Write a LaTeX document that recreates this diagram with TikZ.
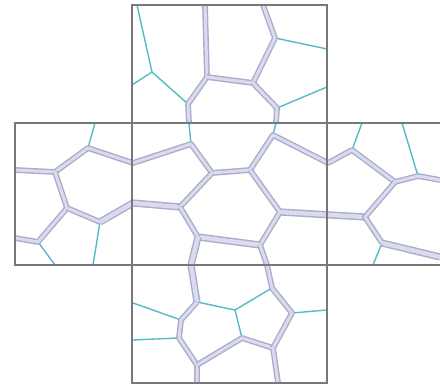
\documentclass[tikz,border=0pt]{standalone}
\definecolor{lavout}{RGB}{170,172,204}
\definecolor{lavin}{RGB}{218,219,236}
\definecolor{cyanline}{RGB}{84,188,200}
\definecolor{framegrey}{RGB}{120,120,120}
\tikzset{
  lav/.style={draw=lavout, double=lavin, line width=1.4pt, double distance=3pt, line join=round},
  lavthick/.style={draw=lavout, double=lavin, line width=1.4pt, double distance=4.4pt, line join=round},
  cyl/.style={draw=cyanline, line width=1.4pt, line join=round},
  frame/.style={draw=framegrey, line width=1.5pt}
}
\begin{document}
\begin{tikzpicture}[x=1pt,y=-1pt]
\useasboundingbox[fill=white] (0,0) rectangle (440,388);
% ---- top face vertices
\coordinate (t1) at (137,5);
\coordinate (a1) at (152,72);
\coordinate (l1) at (132,85);
\coordinate (A) at (188,104);
\coordinate (tA) at (205,5);
\coordinate (A2) at (207,77);
\coordinate (D1) at (253,83);
\coordinate (E1) at (275,38);
\coordinate (tE) at (263,5);
\coordinate (rE) at (327,49);
\coordinate (F1) at (277,108);
\coordinate (rF) at (327,87);
\coordinate (ab) at (189,123);
\coordinate (fe) at (276,123);
% ---- middle face vertices
\coordinate (B) at (191,144);
\coordinate (J) at (88,148);
\coordinate (tJ) at (95,123);
\coordinate (K) at (55,172);
\coordinate (lK) at (15,170);
\coordinate (L) at (67,208);
\coordinate (M) at (100,222);
\coordinate (bM) at (93,265);
\coordinate (N) at (38,242);
\coordinate (lN) at (15,238);
\coordinate (bN) at (55,265);
\coordinate (m1) at (133,203);
\coordinate (j1) at (133,163);
\coordinate (C) at (212,173);
\coordinate (D) at (250,170);
\coordinate (E) at (273,135);
\coordinate (F) at (280,212);
\coordinate (G) at (260,245);
\coordinate (H) at (198,237);
\coordinate (I) at (180,207);
\coordinate (P) at (328,163);
\coordinate (Q) at (352,150);
\coordinate (tQ) at (362,123);
\coordinate (R) at (395,182);
\coordinate (S) at (418,176);
\coordinate (rS) at (440,180);
\coordinate (tS) at (402,123);
\coordinate (T) at (365,217);
\coordinate (U) at (382,243);
\coordinate (bU) at (373,265);
\coordinate (rU) at (440,257);
\coordinate (gb) at (267,265);
\coordinate (hb) at (191,265);
% ---- bottom face vertices
\coordinate (V) at (197,302);
\coordinate (W1) at (181,320);
\coordinate (W2) at (179,338);
\coordinate (X) at (197,365);
\coordinate (bX) at (197,383);
\coordinate (Y) at (242,338);
\coordinate (Z) at (235,310);
\coordinate (AA) at (272,288);
\coordinate (BB) at (292,313);
\coordinate (rBB) at (327,310);
\coordinate (CC) at (273,348);
\coordinate (bCC) at (278,383);
\coordinate (lW1) at (133,303);
\coordinate (lW2) at (133,340);
% ---- cyan edges
\draw[cyl] (t1) -- (a1) -- (l1);
\draw[cyl] (a1) -- (A);
\draw[cyl] (E1) -- (rE);
\draw[cyl] (F1) -- (rF);
\draw[cyl] (ab) -- (B);
\draw[cyl] (fe) -- (E);
\draw[cyl] (tJ) -- (J);
\draw[cyl] (M) -- (bM);
\draw[cyl] (N) -- (bN);
\draw[cyl] (Q) -- (tQ);
\draw[cyl] (S) -- (tS);
\draw[cyl] (U) -- (bU);
\draw[cyl] (V) -- (Z) -- (Y);
\draw[cyl] (Z) -- (AA);
\draw[cyl] (BB) -- (rBB);
\draw[cyl] (W1) -- (lW1);
\draw[cyl] (W2) -- (lW2);
% ---- lavender edges
\draw[lav] (tA) -- (A2) -- (A) -- (ab);
\draw[lav] (A2) -- (D1) -- (E1) -- (tE);
\draw[lav] (D1) -- (F1) -- (fe);
\draw[lav] (lK) -- (K) -- (J) -- (j1) -- (B) -- (C) -- (D) -- (E) -- (P) -- (Q) -- (R) -- (S) -- (rS);
\draw[lav] (K) -- (L) -- (N) -- (lN);
\draw[lav] (L) -- (M);
\draw[lavthick] (M) -- (m1) -- (I);
\draw[lav] (I) -- (C);
\draw[lav] (D) -- (F) -- (G);
\draw[lavthick] (G) -- (H);
\draw[lav] (H) -- (I);
\draw[lavthick] (F) -- (T);
\draw[lav] (R) -- (T) -- (U);
\draw[lavthick] (U) -- (rU);
\draw[lavthick] (H) -- (hb) -- (V);
\draw[lav] (V) -- (W1) -- (W2) -- (X) -- (bX);
\draw[lav] (X) -- (Y) -- (CC) -- (bCC);
\draw[lav] (CC) -- (BB) -- (AA) -- (gb) -- (G);
% ---- frame
\draw[frame] (132,5) rectangle (327,123);
\draw[frame] (132,265) rectangle (327,383);
\draw[frame] (440,123) -- (15,123) -- (15,265) -- (440,265);
\draw[frame] (132,123) -- (132,265);
\draw[frame] (327,123) -- (327,265);
\end{tikzpicture}
\end{document}
